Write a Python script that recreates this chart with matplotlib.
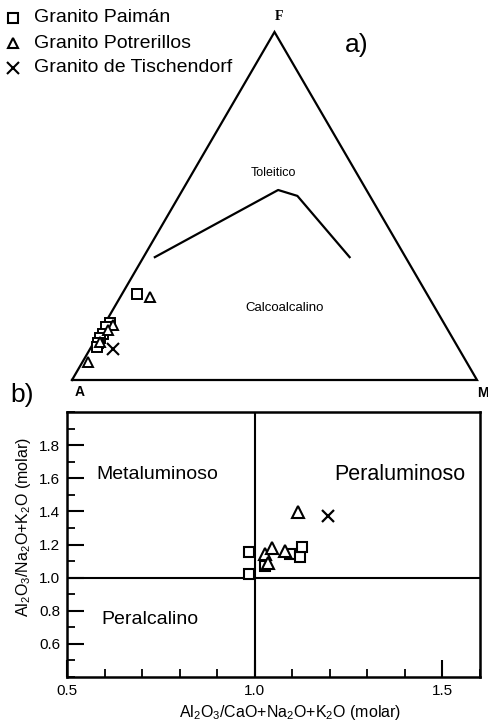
import numpy as np
import matplotlib
matplotlib.use('Agg')
import matplotlib.pyplot as plt
from matplotlib.ticker import MultipleLocator, FixedLocator
from matplotlib.lines import Line2D

plt.rcParams['font.family'] = ['Liberation Sans', 'DejaVu Sans']
plt.rcParams['mathtext.fontset'] = 'custom'
plt.rcParams['mathtext.rm'] = 'Liberation Sans'
plt.rcParams['mathtext.it'] = 'Liberation Sans:italic'
plt.rcParams['mathtext.bf'] = 'Liberation Sans:bold'

# ---------------- data: AFM ternary (fractions) ----------------
paiman_F = [0.247, 0.164, 0.152, 0.132, 0.121, 0.106, 0.095]
paiman_M = [0.037, 0.012, 0.008, 0.011, 0.009, 0.011, 0.014]
potrer_F = [0.239, 0.158, 0.144, 0.109, 0.052]
potrer_M = [0.073, 0.022, 0.017, 0.015, 0.014]
tisch_F = [0.089]
tisch_M = [0.057]
# Irvine & Baragar boundary (F, M fractions)
bound_F = [0.353, 0.546, 0.529, 0.353]
bound_M = [0.028, 0.236, 0.292, 0.509]

# ---------------- data: Shand index ----------------
paiman_acnk = [0.985, 0.985, 1.027, 1.093, 1.120, 1.125]
paiman_ank = [1.152, 1.024, 1.073, 1.145, 1.127, 1.182]
potrer_acnk = [1.027, 1.045, 1.035, 1.080, 1.114]
potrer_ank = [1.145, 1.176, 1.091, 1.158, 1.394]
tisch_acnk = [1.194]
tisch_ank = [1.370]

W, H = 488, 728
fig = plt.figure(figsize=(W / 100, H / 100), dpi=100)


def tern(F, M):
    F = np.asarray(F, float)
    M = np.asarray(M, float)
    return M + F / 2.0, F * np.sqrt(3) / 2.0


def ftxt(x, y, s, **kw):
    fig.text(x / W, 1 - y / H, s, **kw)


# ---------------- panel a: AFM ----------------
ys = 0.866 / 348.0
ax_t = fig.add_axes([0, 1 - 400 / H, 1, 400 / H])
ax_t.set_xlim(-72 / 405, 416 / 405)
ax_t.set_ylim(-20 * ys, 380 * ys)
ax_t.axis('off')
ax_t.plot([0, 1, 0.5, 0], [0, 0, np.sqrt(3) / 2, 0], color='black', lw=1.6,
          clip_on=False, solid_joinstyle='miter')
bx, by = tern(bound_F, bound_M)
ax_t.plot(bx, by, color='black', lw=1.6)

x, y = tern(paiman_F, paiman_M)
ax_t.plot(x, y, 's', ms=6.5, mfc='white', mec='black', mew=1.4, ls='none')
x, y = tern(potrer_F, potrer_M)
ax_t.plot(x, y, '^', ms=7, mfc='white', mec='black', mew=1.4, ls='none')
x, y = tern(tisch_F, tisch_M)
ax_t.plot(x, y, 'x', ms=8, mec='black', mew=1.5, ls='none')

ftxt(279, 16, 'F', family='Liberation Serif', fontsize=10, fontweight='bold',
     ha='center', va='center')
ftxt(80, 392, 'A', fontsize=10, fontweight='bold', ha='center', va='center')
ftxt(483, 393, 'M', fontsize=10, fontweight='bold', ha='center', va='center')
ftxt(357, 45, 'a)', fontsize=19, ha='center', va='center')
ftxt(273, 173, 'Toleitico', fontsize=9, ha='center', va='center')
ftxt(285, 308, 'Calcoalcalino', fontsize=9.5, ha='center', va='center')

# legend
leg = [('s', 'Granito Paimán', 18, 7), ('^', 'Granito Potrerillos', 43, 7.5),
       ('x', 'Granito de Tischendorf', 68, 8.5)]
for mk, lab, yy, ms in leg:
    fig.add_artist(Line2D([13 / W], [1 - yy / H], marker=mk, ms=ms,
                          mfc='white', mec='black', mew=1.5, ls='none',
                          transform=fig.transFigure))
    ftxt(34, yy, lab, fontsize=14, ha='left', va='center')

# ---------------- panel b: Shand ----------------
ax_b = fig.add_axes([67 / W, 1 - 677 / H, 413 / W, 265 / H])
ax_b.set_xlim(0.5, 1.6)
ax_b.set_ylim(0.4, 2.0)
ax_b.axvline(1.0, color='black', lw=1.5)
ax_b.axhline(1.0, color='black', lw=1.5)
ax_b.plot(paiman_acnk, paiman_ank, 's', ms=7, mfc='white', mec='black', mew=1.5)
ax_b.plot(potrer_acnk, potrer_ank, '^', ms=8, mfc='white', mec='black', mew=1.5)
ax_b.plot(tisch_acnk, tisch_ank, 'x', ms=9, mec='black', mew=1.6)

ax_b.xaxis.set_major_locator(FixedLocator([0.5, 1.0, 1.5]))
ax_b.set_xticklabels(['0.5', '1.0', '1.5'])
ax_b.xaxis.set_minor_locator(MultipleLocator(0.1))
ax_b.yaxis.set_major_locator(FixedLocator([0.6, 0.8, 1.0, 1.2, 1.4, 1.6, 1.8]))
ax_b.set_yticklabels(['0.6', '0.8', '1.0', '1.2', '1.4', '1.6', '1.8'])
ax_b.yaxis.set_minor_locator(MultipleLocator(0.1))
ax_b.tick_params(which='major', direction='in', length=12, width=1.5,
                 labelsize=11, pad=5)
ax_b.tick_params(which='minor', direction='in', length=6, width=1.3)
for sp in ax_b.spines.values():
    sp.set_linewidth(1.8)

ax_b.text(0.74, 1.62, 'Metaluminoso', fontsize=14, ha='center', va='center')
ax_b.text(1.386, 1.62, 'Peraluminoso', fontsize=15.5, ha='center', va='center')
ax_b.text(0.72, 0.745, 'Peralcalino', fontsize=14, ha='center', va='center')

ftxt(22, 395, 'b)', fontsize=19, ha='center', va='center')
ftxt(24, 527, r'Al$_2$O$_3$/Na$_2$O+K$_2$O (molar)', fontsize=11.5,
     rotation=90, ha='center', va='center')
ftxt(290, 713, r'Al$_2$O$_3$/CaO+Na$_2$O+K$_2$O (molar)', fontsize=11.5,
     ha='center', va='center')

fig.savefig('out.png', dpi=100)
